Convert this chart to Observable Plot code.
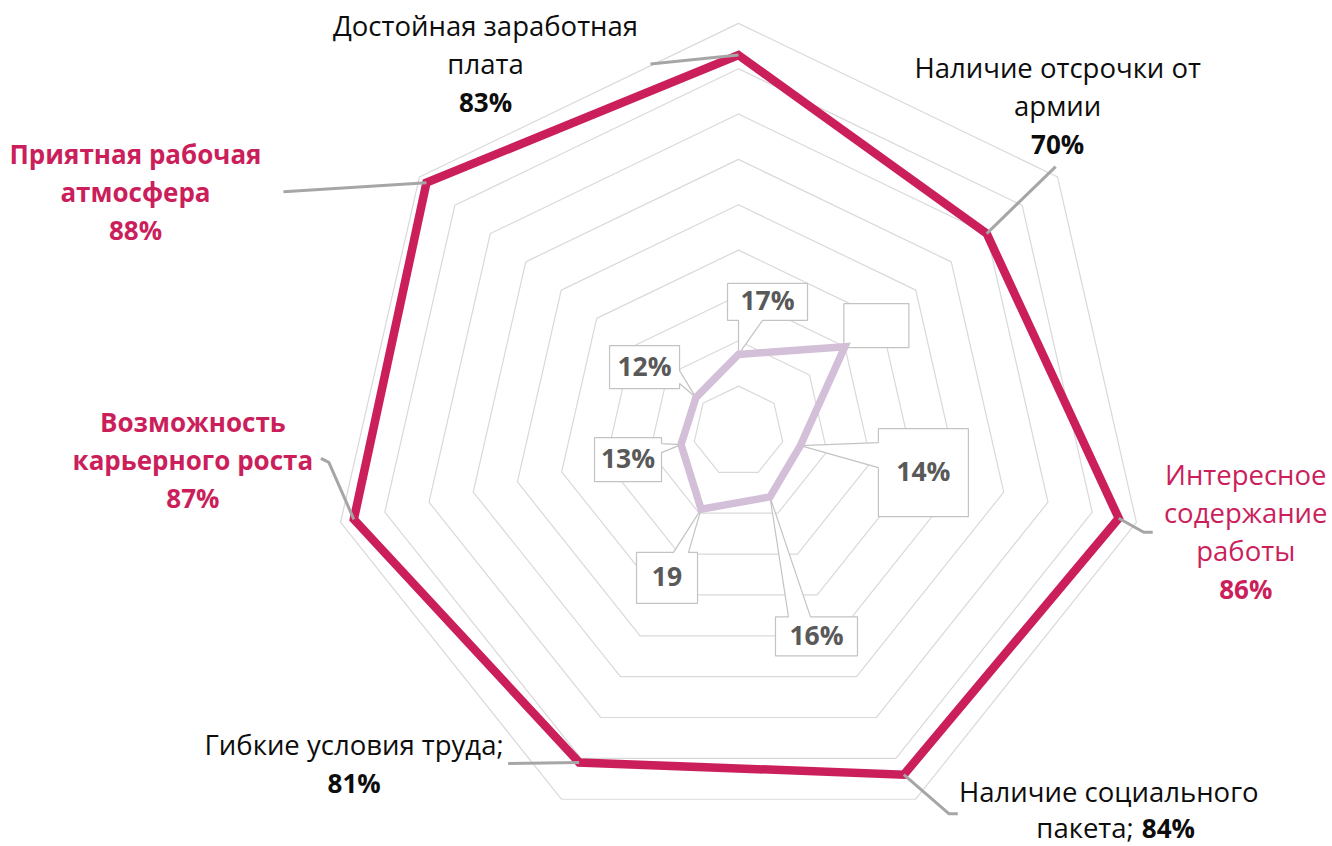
<!DOCTYPE html>
<html>
<head>
<meta charset="utf-8">
<script src="https://cdn.jsdelivr.net/npm/d3@7"></script>
<script src="https://cdn.jsdelivr.net/npm/@observablehq/plot@0.6"></script>
<style>
html, body { margin: 0; padding: 0; background: #fff; }
#chart svg { display: block; }
</style>
</head>
<body>
<div id="chart"></div>
<script>
// ---------- DATA ----------
const categories = [
  "Достойная заработная\nплата",
  "Наличие отсрочки от\nармии",
  "Интересное\nсодержание\nработы",
  "Наличие социального\nпакета;",
  "Гибкие условия труда;",
  "Возможность\nкарьерного роста",
  "Приятная рабочая\nатмосфера"
];
const outerValues = [83, 70, 86, 84, 81, 87, 88];
const outerValueLabels = ["83%", "70%", "86%", "84%", "81%", "87%", "88%"];
const innerValues = [17, 30, 14, 16, 19, 13, 12];
const innerValueLabels = ["17%", "", "14%", "16%", "19", "13%", "12%"];
const gridValues = [10, 20, 30, 40, 50, 60, 70, 80, 90];

// ---------- STYLE ----------
const PINK = "#cb1f5c";
const LILAC = "#d4bfd9";
const BLACK = "#0d0d0d";
const labelColor = [BLACK, BLACK, PINK, BLACK, BLACK, PINK, PINK];
const nameBold = [false, false, false, false, false, true, true];
const FONT = "'Open Sans', 'Noto Sans', sans-serif";
const LH = 38; // px between label lines

// ---------- LAYOUT (pixel offsets relative to each data point) ----------
const W = 1332, H = 846, CX = 738, CY = 431, K = 4.535; // px per value unit
const outerLabelLayout = [
  {dx: -253, dy: -19, lh: LH, leader: [[-88, 9]]},
  {dx: 71, dy: -156, lh: LH, leader: [[69, -67]]},
  {dx: 127, dy: -33, lh: LH, leader: [[25, 14], [34, 14]]},
  {dx: 205, dy: 27, lh: 36, leader: [[45, 39], [54, 39]], inline: true, split: 233},
  {dx: -225, dy: -7, lh: LH, leader: [[-71, 1]]},
  {dx: -161, dy: -87, lh: LH, leader: [[-25, -57], [-33, -61]]},
  {dx: -291, dy: -19, lh: LH, leader: [[-143, 9]]}
];
// callout boxes: l,t,r,b offsets; wedge side and base positions
const innerCalloutLayout = [
  {l: -11, t: -71, r: 69, b: -34, side: "bottom", w: [0, 24]},
  {l: -1, t: -43, r: 64, b: 1, side: null},
  {l: 78, t: -17, r: 168, b: 71, side: "left", w: [-3, 22]},
  {l: 5.5, t: 120, r: 87.5, b: 159, side: "top", w: [18.5, 40.5]},
  {l: -64.6, t: 43.3, r: -3.6, b: 94.3, side: "top", w: [-27.6, -12.6]},
  {l: -86.5, t: -7, r: -19.5, b: 37, side: "right", w: [-1, 8]},
  {l: -86.4, t: -52, r: -16.4, b: -9, side: "right", w: [-27, -14]}
];

// ---------- GEOMETRY ----------
const N = categories.length;
const ang = i => i * 2 * Math.PI / N;
const px = (v, i) => v * Math.sin(ang(i));
const py = (v, i) => -v * Math.cos(ang(i)); // y grows downward

const gridData = gridValues.flatMap(t => categories.map((c, i) => ({t, i, x: px(t, i), y: py(t, i)})));
const outerData = categories.map((c, i) => ({i, x: px(outerValues[i], i), y: py(outerValues[i], i)}));
const innerData = categories.map((c, i) => ({i, x: px(innerValues[i], i), y: py(innerValues[i], i)}));

// leader lines
const leaderData = [];
categories.forEach((c, i) => {
  const x0 = px(outerValues[i], i), y0 = py(outerValues[i], i);
  leaderData.push({i, x: x0, y: y0});
  outerLabelLayout[i].leader.forEach(([ox, oy]) => leaderData.push({i, x: x0 + ox / K, y: y0 + oy / K}));
});

// outer label text lines
const textLines = [];
categories.forEach((name, i) => {
  const L = outerLabelLayout[i];
  const x0 = px(outerValues[i], i), y0 = py(outerValues[i], i);
  const names = name.split("\n");
  const add = (text, bold, anchor, ox, oy) =>
    textLines.push({text, bold, anchor, color: labelColor[i], x: x0 + ox / K, y: y0 + oy / K});
  names.forEach((t, j) => {
    const last = j === names.length - 1;
    if (L.inline && last) {
      add(t, nameBold[i], "end", L.split - 3, L.dy + j * L.lh);
      add(outerValueLabels[i], true, "start", L.split + 5, L.dy + j * L.lh);
    } else {
      add(t, nameBold[i], "middle", L.dx, L.dy + j * L.lh);
    }
  });
  if (!L.inline) add(outerValueLabels[i], true, "middle", L.dx, L.dy + names.length * L.lh);
});

// inner callouts
const calloutData = [];
const calloutText = [];
categories.forEach((c, i) => {
  const C = innerCalloutLayout[i];
  const x0 = px(innerValues[i], i), y0 = py(innerValues[i], i);
  const pts = [];
  pts.push([C.l, C.t]);
  if (C.side === "top") pts.push([C.w[0], C.t], [0, 0], [C.w[1], C.t]);
  pts.push([C.r, C.t]);
  if (C.side === "right") pts.push([C.r, C.w[0]], [0, 0], [C.r, C.w[1]]);
  pts.push([C.r, C.b]);
  if (C.side === "bottom") pts.push([C.w[1], C.b], [0, 0], [C.w[0], C.b]);
  pts.push([C.l, C.b]);
  if (C.side === "left") pts.push([C.l, C.w[1]], [0, 0], [C.l, C.w[0]]);
  pts.forEach(([ox, oy]) => calloutData.push({i, x: x0 + ox / K, y: y0 + oy / K}));
  calloutText.push({text: innerValueLabels[i], x: x0 + (C.l + C.r) / 2 / K, y: y0 + (C.t + C.b) / 2 / K});
});

// ---------- MARKS ----------
const textMarks = [];
for (const anchor of ["middle", "start", "end"]) {
  for (const bold of [false, true]) {
    const subset = textLines.filter(d => d.anchor === anchor && d.bold === bold);
    if (!subset.length) continue;
    textMarks.push(Plot.text(subset, {
      x: "x", y: "y", text: "text", fill: "color",
      textAnchor: anchor, lineAnchor: "bottom",
      fontWeight: bold ? 700 : 400, fontSize: bold ? 26 : 27.5, fontFamily: FONT
    }));
  }
}

const chart = Plot.plot({
  width: W,
  height: H,
  margin: 0,
  x: {domain: [-CX / K, (W - CX) / K], range: [0, W], axis: null},
  y: {domain: [-CY / K, (H - CY) / K], range: [0, H], axis: null},
  color: {type: "identity"},
  style: {background: "#fff", fontFamily: FONT},
  marks: [
    Plot.line(gridData, {x: "x", y: "y", z: "t", curve: "linear-closed", stroke: "#d9d9d9", strokeWidth: 1.2}),
    Plot.line(calloutData, {x: "x", y: "y", z: "i", curve: "linear-closed", fill: "#fff", stroke: "#c3c3c3", strokeWidth: 1.2, strokeLinejoin: "miter"}),
    Plot.line(innerData, {x: "x", y: "y", curve: "linear-closed", stroke: LILAC, strokeWidth: 7.5, strokeLinejoin: "miter", strokeMiterlimit: 10}),
    Plot.line(outerData, {x: "x", y: "y", curve: "linear-closed", stroke: PINK, strokeWidth: 8.5, strokeLinejoin: "miter", strokeMiterlimit: 10}),
    Plot.line(leaderData, {x: "x", y: "y", z: "i", stroke: "#a6a6a6", strokeWidth: 3, strokeLinejoin: "miter", strokeLinecap: "butt"}),
    Plot.text(calloutText, {x: "x", y: "y", text: "text", fill: "#595959", fontWeight: 700, fontSize: 26.5, lineAnchor: "middle", fontFamily: FONT}),
    ...textMarks
  ]
});
document.getElementById("chart").appendChild(chart);
</script>
</body>
</html>
